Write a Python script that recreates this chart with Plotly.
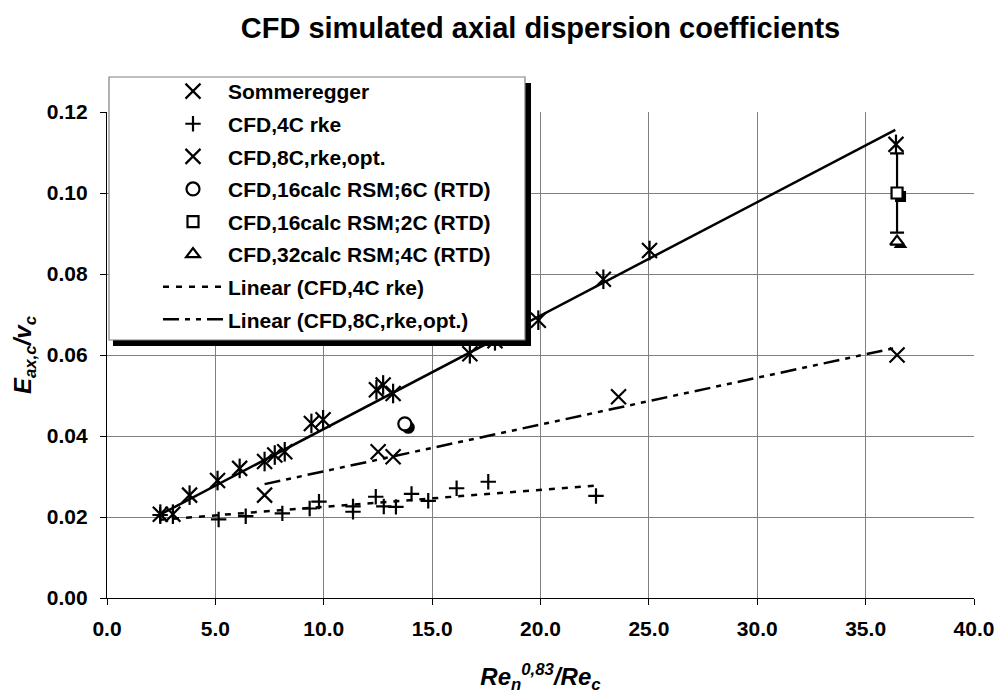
import numpy as np
import plotly.graph_objects as go

# ---------------- data ----------------
chart_title = "CFD simulated axial dispersion coefficients"
x_title = "Re<sub>n</sub><sup>0,83</sup>/Re<sub>c</sub>"
y_title = "E<sub>ax,c</sub>/v<sub>c</sub>"

somm_x = [2.46, 3.04, 3.81, 5.10, 6.12, 7.27, 7.74, 8.20, 9.43, 9.97,
          12.43, 12.74, 13.20, 16.74, 17.90, 19.90, 22.90, 25.03, 36.40]
somm_y = [0.0207, 0.0207, 0.0254, 0.0290, 0.0320, 0.0337, 0.0353, 0.0361, 0.0431, 0.0440,
          0.0514, 0.0526, 0.0505, 0.0603, 0.0635, 0.0686, 0.0787, 0.0858, 0.1120]

cfd4_x = [2.45, 5.15, 6.40, 8.09, 9.35, 9.78, 11.35, 11.35, 12.40, 12.77,
          13.33, 14.05, 14.82, 16.13, 17.59, 22.56]
cfd4_y = [0.0205, 0.0194, 0.0202, 0.0209, 0.0221, 0.0238, 0.0226, 0.0213, 0.0250, 0.0226,
          0.0225, 0.0257, 0.0240, 0.0271, 0.0287, 0.0252]

cfd8_x = [7.27, 12.51, 13.20, 23.60, 36.45]
cfd8_y = [0.0254, 0.0361, 0.0349, 0.0497, 0.0600]

rsm6_x = [13.74]
rsm6_y = [0.0430]
rsm2_x = [36.45]
rsm2_y = [0.1000]
rsm2_err = [0.0098]
rsm4_x = [36.45]
rsm4_y = [0.0880]

somm_line_x = [2.42, 36.37]
somm_line_y = [0.0205, 0.1156]

x_ticks = [0, 5, 10, 15, 20, 25, 30, 35, 40]
y_ticks = [0.00, 0.02, 0.04, 0.06, 0.08, 0.10, 0.12]

# ---------------- layout geometry ----------------
W, H = 996, 694
ML, MR, MT, MB = 107, 22, 112, 96
PW, PH = W - ML - MR, H - MT - MB
X_RANGE = [0, 40]
Y_RANGE = [0, 0.12]

def px_x(p):  # page pixel -> paper x
    return (p - ML) / PW

def px_y(p):  # page pixel -> paper y
    return (H - MB - p) / PH

# shadow offset (pixels -> data units)
SH = 3.5
sdx = SH * (X_RANGE[1] - X_RANGE[0]) / PW
sdy = -SH * (Y_RANGE[1] - Y_RANGE[0]) / PH

FONT = "Liberation Sans, Arial, sans-serif"
LW = 2.2

# ---------------- linear trendlines ----------------
k4, b4 = np.polyfit(cfd4_x, cfd4_y, 1)
fit4_x = np.array([min(cfd4_x), max(cfd4_x)])
fit4_y = k4 * fit4_x + b4
k8, b8 = np.polyfit(cfd8_x, cfd8_y, 1)
fit8_x = np.array([min(cfd8_x), max(cfd8_x)])
fit8_y = k8 * fit8_x + b8

fig = go.Figure()

# Sommeregger line (no legend entry)
fig.add_trace(go.Scatter(x=somm_line_x, y=somm_line_y, mode="lines",
                         line=dict(color="black", width=2.5),
                         showlegend=False, legendgroup="sl", hoverinfo="skip"))

# Sommeregger stars (x + vertical bar)
fig.add_trace(go.Scatter(x=somm_x, y=somm_y, mode="markers", name="Sommeregger",
                         legendgroup="g1",
                         marker=dict(symbol="x-thin-open", size=15,
                                     line=dict(color="black", width=LW), color="black")))
fig.add_trace(go.Scatter(x=somm_x, y=somm_y, mode="markers", showlegend=False,
                         legendgroup="g1",
                         marker=dict(symbol="line-ns-open", size=14,
                                     line=dict(color="black", width=LW), color="black")))

fig.add_trace(go.Scatter(x=cfd4_x, y=cfd4_y, mode="markers", name="CFD,4C rke",
                         legendgroup="g2",
                         marker=dict(symbol="cross-thin-open", size=11,
                                     line=dict(color="black", width=LW), color="black")))

fig.add_trace(go.Scatter(x=cfd8_x, y=cfd8_y, mode="markers", name="CFD,8C,rke,opt.",
                         legendgroup="g3",
                         marker=dict(symbol="x-thin-open", size=15,
                                     line=dict(color="black", width=LW), color="black")))

# circle with shadow
fig.add_trace(go.Scatter(x=[v + sdx for v in rsm6_x], y=[v + sdy for v in rsm6_y],
                         mode="markers", showlegend=False, legendgroup="g4",
                         marker=dict(symbol="circle", size=13, color="black")))
fig.add_trace(go.Scatter(x=rsm6_x, y=rsm6_y, mode="markers", name="CFD,16calc RSM;6C (RTD)",
                         legendgroup="g4",
                         marker=dict(symbol="circle", size=13, color="white",
                                     line=dict(color="black", width=LW))))

# square with shadow and error bar
fig.add_trace(go.Scatter(x=[v + sdx for v in rsm2_x], y=[v + sdy for v in rsm2_y],
                         mode="markers", showlegend=False, legendgroup="g5",
                         marker=dict(symbol="square", size=11, color="black")))
fig.add_trace(go.Scatter(x=rsm2_x, y=rsm2_y, mode="markers", name="CFD,16calc RSM;2C (RTD)",
                         legendgroup="g5",
                         error_y=dict(type="data", array=rsm2_err, symmetric=True,
                                      color="black", thickness=LW, width=7),
                         marker=dict(symbol="square", size=11, color="white",
                                     line=dict(color="black", width=LW))))

# triangle with shadow
fig.add_trace(go.Scatter(x=[v + sdx for v in rsm4_x], y=[v + sdy for v in rsm4_y],
                         mode="markers", showlegend=False, legendgroup="g6",
                         marker=dict(symbol="triangle-up", size=12, color="black")))
fig.add_trace(go.Scatter(x=rsm4_x, y=rsm4_y, mode="markers", name="CFD,32calc RSM;4C (RTD)",
                         legendgroup="g6",
                         marker=dict(symbol="triangle-up", size=12, color="white",
                                     line=dict(color="black", width=LW))))

# trendlines
fig.add_trace(go.Scatter(x=fit4_x, y=fit4_y, mode="lines", name="Linear (CFD,4C rke)",
                         legendgroup="g7",
                         line=dict(color="black", width=2.5, dash="6px,7px")))
fig.add_trace(go.Scatter(x=fit8_x, y=fit8_y, mode="lines", name="Linear (CFD,8C,rke,opt.)",
                         legendgroup="g8",
                         line=dict(color="black", width=2.5,
                                   dash="16px,6px,5px,6px,5px,6px")))

# legend frame with shadow
shapes = [
    dict(type="rect", xref="paper", yref="paper", layer="above",
         x0=px_x(113), x1=px_x(531), y0=px_y(346), y1=px_y(83),
         fillcolor="black", line=dict(width=0)),
    dict(type="rect", xref="paper", yref="paper", layer="above",
         x0=px_x(109), x1=px_x(525), y0=px_y(340), y1=px_y(77),
         fillcolor="white", line=dict(color="#808080", width=1.2)),
]

fig.update_layout(
    width=W, height=H,
    margin=dict(l=ML, r=MR, t=MT, b=MB, autoexpand=False),
    paper_bgcolor="white", plot_bgcolor="white",
    font=dict(family=FONT, color="black", size=21),
    title=dict(text=chart_title, x=(ML + PW / 2) / W, xanchor="center",
               y=1 - 28 / H, yanchor="middle",
               font=dict(family=FONT, size=29, weight="bold", color="black")),
    showlegend=True,
    legend=dict(x=px_x(158), y=px_y(71), xanchor="left", yanchor="top",
                bgcolor="rgba(0,0,0,0)", borderwidth=0,
                traceorder="grouped", tracegroupgap=2.3, itemwidth=60,
                font=dict(family=FONT, size=21, weight="bold", color="black")),
    shapes=shapes,
)

fig.update_xaxes(range=X_RANGE, tickvals=x_ticks, tickformat=".1f",
                 showline=True, linecolor="black", linewidth=1.2,
                 ticks="outside", ticklen=6, tickcolor="black", tickwidth=1.2,
                 ticklabelstandoff=6,
                 showgrid=True, gridcolor="#808080", gridwidth=1, zeroline=False,
                 tickfont=dict(family=FONT, size=21, weight="bold"),
                 title=dict(text=x_title, standoff=32,
                            font=dict(family=FONT, size=24, weight="bold", style="italic")))
fig.update_yaxes(range=Y_RANGE, tickvals=y_ticks, tickformat=".2f",
                 showline=True, linecolor="black", linewidth=1.2,
                 ticks="outside", ticklen=6, tickcolor="black", tickwidth=1.2,
                 ticklabelstandoff=8,
                 showgrid=True, gridcolor="#808080", gridwidth=1, zeroline=False,
                 tickfont=dict(family=FONT, size=21, weight="bold"),
                 title=dict(text=y_title, standoff=8,
                            font=dict(family=FONT, size=24, weight="bold", style="italic")))

fig.write_html("out.html")
